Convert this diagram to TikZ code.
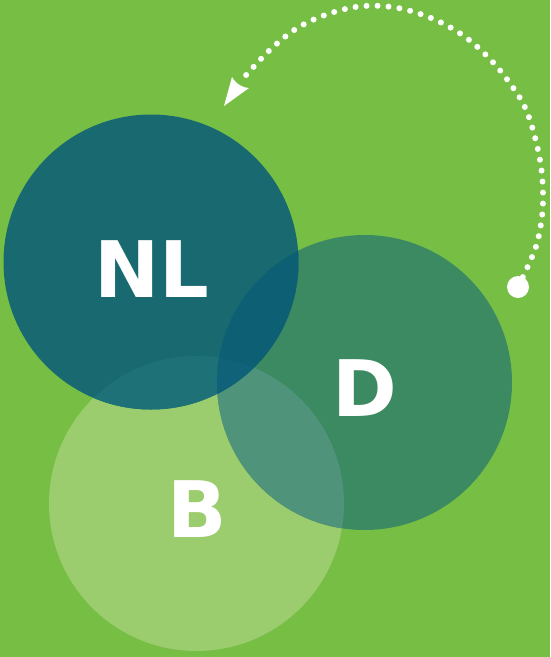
\documentclass[tikz,border=0pt]{standalone}
\usepackage{fontspec}
\newfontfamily\labelfont{DejaVu Sans}
\definecolor{bgc}{HTML}{77BE44}
\definecolor{bc}{HTML}{9BCC6E}
\definecolor{dc}{HTML}{3C8A62}
\definecolor{nlc}{HTML}{186A70}
\definecolor{bdc}{HTML}{4F937A}
\definecolor{nlbc}{HTML}{1E7177}
\definecolor{nldc}{HTML}{0D5F74}
\definecolor{nldbc}{HTML}{0F6277}
\tikzset{
  disc/.style={circle, inner sep=0pt, minimum size=295pt},
  lbl/.style={text=white, font=\labelfont\bfseries\fontsize{78}{78}\selectfont, anchor=base, inner sep=0pt},
  dots/.style={white, line width=6pt, line cap=round, dash pattern=on 0pt off 11pt}
}
\begin{document}
\begin{tikzpicture}[x=1pt,y=-1pt]
\useasboundingbox (0,0) rectangle (550,657);
\fill[bgc] (0,0) rectangle (550,657);
% circles
\node[disc, fill=bc] (b) at (196.5,503.5) {};
\node[disc, fill=dc] (d) at (364.5,382.5) {};
\node[disc, fill=nlc] (nl) at (151,262) {};
% overlaps
\begin{scope}
  \clip (b.center) circle (147.5pt);
  \fill[bdc] (d.center) circle (147.5pt);
\end{scope}
\begin{scope}
  \clip (nl.center) circle (147.5pt);
  \fill[nlbc] (b.center) circle (147.5pt);
  \fill[nldc] (d.center) circle (147.5pt);
  \clip (d.center) circle (147.5pt);
  \fill[nldbc] (b.center) circle (147.5pt);
\end{scope}
% labels
\node[lbl] (tnl) at (152,297) {NL};
\node[lbl] (td) at (365,416) {D};
\node[lbl] (tb) at (197,537) {B};
% dotted arrow
\coordinate (start) at (518,287);
\fill[white] (start) circle (11pt);
\draw[dots] plot[smooth, tension=0.6] coordinates {(518,287) (532,257) (539,235) (543,202) (540,160) (527,112) (509,82) (487,56) (461,34) (431,18) (398,8) (364,6) (331,13) (299,27) (272,48) (248,73) (241,82)};
\coordinate (tip) at (224,106);
\fill[white] (tip) -- (232,77) .. controls (236,84) and (243,88) .. (249,88) -- cycle;
\end{tikzpicture}
\end{document}
